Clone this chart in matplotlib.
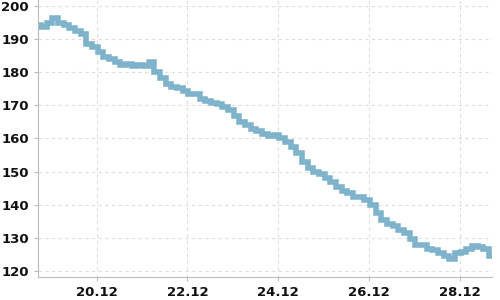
import matplotlib
matplotlib.use("Agg")
import matplotlib.pyplot as plt
import matplotlib.dates as mdates
import pandas as pd

# readings every 3 hours
start = "2023-12-18 17:00"
step = "3h"
values = [194.3, 193.8, 195.0, 196.5, 195.0, 194.3, 193.2, 192.5, 191.5, 188.5,
          187.5, 186.0, 184.5, 184.0, 183.0, 182.3, 182.5, 182.0, 182.3, 181.8,
          183.0, 180.0, 178.2, 176.5, 175.5, 175.3, 174.2, 173.3, 173.5, 171.8,
          171.3, 170.8, 170.3, 169.5, 168.5, 166.8, 165.0, 164.0, 163.0, 162.3,
          161.4, 160.8, 161.0, 160.2, 158.8, 157.5, 155.5, 152.8, 151.2, 150.0,
          149.3, 148.2, 147.0, 145.5, 144.3, 143.5, 142.3, 142.2, 141.5, 140.0,
          137.5, 135.5, 134.2, 133.5, 132.3, 131.5, 129.8, 128.0, 127.8, 126.5,
          126.3, 125.4, 124.5, 123.5, 125.3, 125.8, 126.5, 127.5, 127.3, 126.5,
          124.5]
x_ticks = ["2023-12-20", "2023-12-22", "2023-12-24", "2023-12-26", "2023-12-28"]
y_ticks = [120, 130, 140, 150, 160, 170, 180, 190, 200]

times = pd.date_range(start, periods=len(values), freq=step)

fig = plt.figure(figsize=(5, 3), dpi=100)
ax = fig.add_axes([0.076, 0.0767, 0.908, 0.9233])

ax.plot(times, values, color="#7fb3cc", linewidth=4, drawstyle="steps-mid",
        solid_joinstyle="miter")

ax.set_xlim(times[0], times[-1])
ax.set_ylim(118.2, 201.8)
ax.set_yticks(y_ticks)
ax.set_xticks(pd.to_datetime(x_ticks))
ax.xaxis.set_major_formatter(mdates.DateFormatter("%d.%m"))

ax.grid(True, color="#dddddd", linestyle=(0, (3, 3)), linewidth=0.8)
ax.set_axisbelow(True)
for s in ["top", "right"]:
    ax.spines[s].set_visible(False)
for s in ["left", "bottom"]:
    ax.spines[s].set_color("#bbbbbb")
ax.tick_params(colors="#bbbbbb", length=3, labelcolor="#111111", labelsize=9.5)
for lab in ax.get_xticklabels() + ax.get_yticklabels():
    lab.set_fontweight("bold")

fig.savefig("out.png", dpi=100)
